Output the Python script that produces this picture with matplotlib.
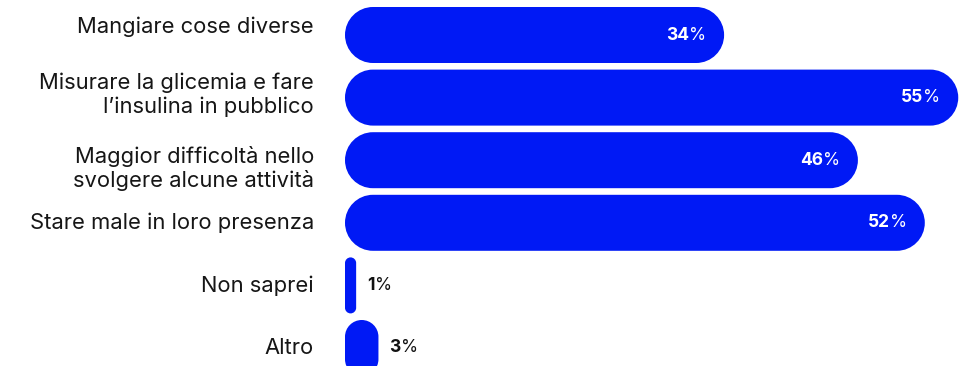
import matplotlib
matplotlib.use("Agg")
import matplotlib.pyplot as plt
from matplotlib.patches import PathPatch
from matplotlib.path import Path
from matplotlib.transforms import offset_copy

categories = [
    "Mangiare cose diverse",
    "Misurare la glicemia e fare\nl\u2019insulina in pubblico",
    "Maggior difficolt\u00e0 nello\nsvolgere alcune attivit\u00e0",
    "Stare male in loro presenza",
    "Non saprei",
    "Altro",
]
values = [34, 55, 46, 52, 1, 3]

BAR_COLOR = "#0019f5"
W, H, DPI = 959, 366, 100
# vertical nudge of each category label, in pixels (positive = down)
LABEL_SHIFT = [-8, -3, 8, 0, 0, 0]

plt.rcParams["font.family"] = ["Inter", "DejaVu Sans"]

fig = plt.figure(figsize=(W / DPI, H / DPI), dpi=DPI)
ax = fig.add_axes([0, 0, 1, 1])

px_per_pct = 11.15   # horizontal pixels per percentage point
left_px = 345        # pixel position of the bar baseline
pitch = 62.6         # vertical pixels between bar centres
ax.set_xlim(-left_px / px_per_pct, (W - left_px) / px_per_pct)
ax.set_ylim(5 + 18 / pitch, -35 / pitch)
ax.axis("off")

bar_h = 56 / pitch
K = 0.5523  # cubic bezier constant for quarter circles


def rounded_bar(x0, yc, w, h):
    """Bar with fully rounded ends, circular in screen space."""
    r_px = min(w * px_per_pct, h * pitch) / 2
    rx, ry = r_px / px_per_pct, r_px / pitch
    x1 = x0 + w
    y0, y1 = yc - h / 2, yc + h / 2
    verts = [
        (x0 + rx, y0), (x1 - rx, y0),
        (x1 - rx + K * rx, y0), (x1, y0 + ry - K * ry), (x1, y0 + ry),
        (x1, y1 - ry),
        (x1, y1 - ry + K * ry), (x1 - rx + K * rx, y1), (x1 - rx, y1),
        (x0 + rx, y1),
        (x0 + rx - K * rx, y1), (x0, y1 - ry + K * ry), (x0, y1 - ry),
        (x0, y0 + ry),
        (x0, y0 + ry - K * ry), (x0 + rx - K * rx, y0), (x0 + rx, y0),
        (x0 + rx, y0),
    ]
    codes = ([Path.MOVETO, Path.LINETO]
             + [Path.CURVE4] * 3 + [Path.LINETO]
             + [Path.CURVE4] * 3 + [Path.LINETO]
             + [Path.CURVE4] * 3 + [Path.LINETO]
             + [Path.CURVE4] * 3 + [Path.CLOSEPOLY])
    return PathPatch(Path(verts, codes), facecolor=BAR_COLOR, edgecolor="none")


fig.canvas.draw()
renderer = fig.canvas.get_renderer()

VAL_FS = 12.5
for i, (cat, v) in enumerate(zip(categories, values)):
    ax.add_patch(rounded_bar(0, i, v, bar_h))

    ax.text(-31 / px_per_pct, i + LABEL_SHIFT[i] / pitch, cat,
            ha="right", va="center",
            fontsize=15.8, color="#161616", linespacing=1.17)

    if v > 10:
        pct_tr = offset_copy(ax.transData, fig=fig, x=-18, y=0, units="dots")
        t_pct = ax.text(v, i, "%", ha="right", va="center", fontsize=VAL_FS,
                        color="white", transform=pct_tr)
        w_pct = t_pct.get_window_extent(renderer).width
        num_tr = offset_copy(ax.transData, fig=fig, x=-18 - w_pct, y=0, units="dots")
        ax.text(v, i, str(v), ha="right", va="center", fontsize=VAL_FS,
                fontweight="bold", color="white", transform=num_tr)
    else:
        num_tr = offset_copy(ax.transData, fig=fig, x=11, y=0, units="dots")
        t_num = ax.text(v, i, str(v), ha="left", va="center", fontsize=VAL_FS,
                        fontweight="bold", color="#111111", transform=num_tr)
        w_num = t_num.get_window_extent(renderer).width
        pct_tr = offset_copy(ax.transData, fig=fig, x=11 + w_num, y=0, units="dots")
        ax.text(v, i, "%", ha="left", va="center", fontsize=VAL_FS,
                color="#111111", transform=pct_tr)

fig.savefig("out.png", dpi=DPI)
